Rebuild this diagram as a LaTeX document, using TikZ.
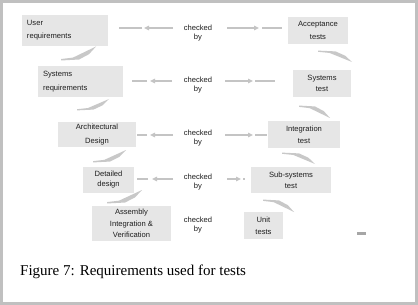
\documentclass[tikz,border=0pt]{standalone}
\usepackage{fontspec}
\setmainfont{Liberation Serif}
\newfontfamily\arialfont{Liberation Sans}
\usetikzlibrary{arrows.meta}

\definecolor{boxgrey}{HTML}{E6E6E6}
\definecolor{linkgrey}{HTML}{C4C4C4}
\definecolor{framegrey}{HTML}{C0C0C0}
\definecolor{wedgegrey}{HTML}{C8C8C8}
\definecolor{textgrey}{HTML}{1E1E1E}

\tikzset{
  box/.style={fill=boxgrey, draw=none, inner sep=0pt, align=center,
    text=textgrey},
  lbox/.style={box, align=left},
  checkedby/.style={inner sep=0pt, align=center, text=textgrey,
    font=\arialfont\fontsize{7.6}{9}\selectfont},
  link/.style={draw=linkgrey, line width=1.5pt},
  tip/.style={-{Triangle[length=5pt,width=4.5pt]}},
  wedge/.style={fill=wedgegrey, draw=none},
}

% tapered swoosh rising to the upper right (tail at origin, tip at (35,-14))
\newcommand\leftwedge[4]{%
  \begin{scope}[shift={(#1,#2)}, xscale=#3/35, yscale=#4/14]
    \path[wedge] (0,0.5) -- (0,-1) -- (12,-2.5) -- (35,-14) -- (28,-6)
      -- (18,-0.5) -- cycle;
  \end{scope}}
% tapered swoosh falling to the lower right (tail at origin, tip at (35,14))
\newcommand\rightwedge[4]{%
  \begin{scope}[shift={(#1,#2)}, xscale=#3/35, yscale=#4/14]
    \path[wedge] (0,-0.5) -- (0,1) -- (12,2.5) -- (35,14) -- (28,6)
      -- (18,0.5) -- cycle;
  \end{scope}}

\begin{document}
\begin{tikzpicture}[x=1pt, y=-1pt]
  \useasboundingbox (0,0) rectangle (418,305);
  \fill[white] (0,0) rectangle (418,305);
  \draw[framegrey, line width=2.7pt] (1.35,1.35) rectangle (416.65,303.65);

  % design side
  \node[lbox, minimum width=86pt, minimum height=31pt, text width=76pt,
        font=\arialfont\fontsize{7.6}{13}\selectfont]
    (ur) at (65,30.5) {User\\requirements};
  \node[lbox, minimum width=85pt, minimum height=31pt, text width=75pt,
        font=\arialfont\fontsize{7.6}{13.3}\selectfont]
    (sr) at (80.5,81.5) {Systems\\requirements};
  \node[box, minimum width=78pt, minimum height=25pt,
        font=\arialfont\fontsize{7.6}{14}\selectfont]
    (ad) at (97,134.5) {Architectural\\Design};
  \node[box, minimum width=51pt, minimum height=26pt,
        font=\arialfont\fontsize{7.6}{10}\selectfont]
    (dd) at (108.5,180) {Detailed\\design};
  \node[box, minimum width=79pt, minimum height=35pt,
        font=\arialfont\fontsize{7.6}{11.3}\selectfont]
    (aiv) at (131.5,223.5) {Assembly\\Integration \&\\Verification};

  % test side
  \node[box, minimum width=60pt, minimum height=27pt,
        font=\arialfont\fontsize{7.6}{12.3}\selectfont]
    (at) at (318,30.5) {Acceptance\\tests};
  \node[box, minimum width=58pt, minimum height=27pt,
        font=\arialfont\fontsize{7.6}{11.7}\selectfont]
    (st) at (322,83.5) {Systems\\test};
  \node[box, minimum width=72pt, minimum height=27pt,
        font=\arialfont\fontsize{7.6}{12}\selectfont]
    (it) at (304,134.5) {Integration\\test};
  \node[box, minimum width=80pt, minimum height=26pt,
        font=\arialfont\fontsize{7.6}{11.3}\selectfont]
    (ss) at (291,180) {Sub-systems\\test};
  \node[box, minimum width=39pt, minimum height=27pt,
        font=\arialfont\fontsize{7.6}{11.7}\selectfont]
    (ut) at (263.5,225.5) {Unit\\tests};

  % "checked by" labels
  \node[checkedby] (c1) at (198,33) {checked\\by};
  \node[checkedby] (c2) at (198,85) {checked\\by};
  \node[checkedby] (c3) at (198,138) {checked\\by};
  \node[checkedby] (c4) at (198,182) {checked\\by};
  \node[checkedby] (c5) at (198,225) {checked\\by};

  % links towards the design side
  \draw[link, tip] (173,28) -- (144,28);  \draw[link] (142,28) -- (119,28);
  \draw[link, tip] (172,81) -- (150,81);  \draw[link] (147,81) -- (132,81);
  \draw[link, tip] (173,135) -- (150,135); \draw[link] (147,135) -- (137,135);
  \draw[link, tip] (173,179) -- (152,179); \draw[link] (148,179) -- (137,179);

  % links towards the test side
  \draw[link, tip] (227,28) -- (259,28);  \draw[link] (262,28) -- (282,28);
  \draw[link, tip] (225,81) -- (253,81);  \draw[link] (255,81) -- (275,81);
  \draw[link, tip] (225,135) -- (253,135); \draw[link] (255,135) -- (267,135);
  \draw[link, tip] (227,179) -- (241,179); \draw[link] (243,179) -- (245,179);

  % descending swooshes between design levels
  \leftwedge{61}{60}{35}{13.5}
  \leftwedge{77}{110}{32}{11}
  \leftwedge{93}{162}{33}{12}
  \leftwedge{107}{203}{35}{13}

  % ascending swooshes between test levels
  \rightwedge{318}{51}{34}{11}
  \rightwedge{299}{106}{31}{12}
  \rightwedge{282}{153}{33}{11}
  \rightwedge{263}{200}{31}{12}

  % small mark at the lower right
  \fill[black!35] (357,232) rectangle (366,234.5);

  % caption
  \node[anchor=base west, inner sep=0pt, font=\fontsize{15}{18}\selectfont]
    (cap) at (20,275) {Figure 7: Requirements used for tests};
\end{tikzpicture}
\end{document}
